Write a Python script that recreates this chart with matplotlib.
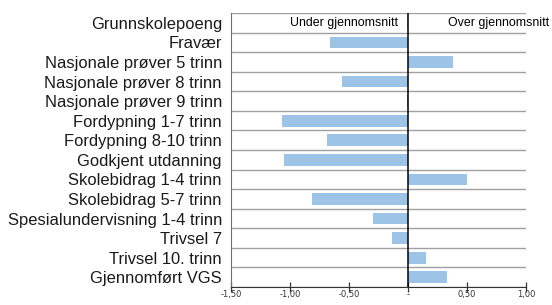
import numpy as np
import matplotlib.pyplot as plt
from matplotlib.ticker import FixedLocator, NullFormatter

plt.rcParams['font.family'] = ['Liberation Sans', 'DejaVu Sans']

categories = ['Grunnskolepoeng', 'Fravær', 'Nasjonale prøver 5 trinn',
              'Nasjonale prøver 8 trinn', 'Nasjonale prøver 9 trinn',
              'Fordypning 1-7 trinn', 'Fordypning 8-10 trinn',
              'Godkjent utdanning', 'Skolebidrag 1-4 trinn',
              'Skolebidrag 5-7 trinn', 'Spesialundervisning 1-4 trinn',
              'Trivsel 7', 'Trivsel 10. trinn', 'Gjennomført VGS']
values = [-0.01, -0.66, 0.38, -0.56, -0.01, -1.07, -0.69, -1.05, 0.50,
          -0.81, -0.30, -0.14, 0.15, 0.33]
xticks = [-1.5, -1.0, -0.5, 0.0, 0.5, 1.0]
xticklabels = ['-1,50', '-1,00', '-0,50', '-', '0,50', '1,00']

fig = plt.figure(figsize=(5.52, 3.05), dpi=100)
ax = fig.add_axes([0.4185, 0.059, 0.953 - 0.4185, 0.957 - 0.059])

n = len(categories)
y = np.arange(n)
ax.barh(y, values, height=0.6, color='#9dc3e6', zorder=2)

ax.set_xlim(-1.5, 1.0)
ax.set_ylim(n - 0.5, -0.5)
ax.set_yticks(y)
ax.set_yticklabels(categories, fontsize=11.9, color='#1a1a1a')
ax.tick_params(axis='y', length=0, pad=6.5)

ax.set_xticks(xticks)
ax.set_xticklabels(xticklabels, fontsize=6, family='DejaVu Sans', color='#333333')
ax.tick_params(axis='x', direction='inout', length=7, width=0.9, color='#333333', pad=-1.5)

# lines between rows
ax.yaxis.set_minor_locator(FixedLocator(np.arange(-0.5, n, 1.0)))
ax.yaxis.set_minor_formatter(NullFormatter())
ax.tick_params(axis='y', which='minor', length=0)
ax.grid(axis='y', which='minor', color='#a0a0a0', lw=1.0, zorder=1)

ax.axvline(0, color='black', lw=1.1, zorder=3)

ax.spines['right'].set_visible(False)
ax.spines['top'].set_visible(False)
ax.spines['left'].set_color('#707070')
ax.spines['bottom'].set_color('#333333')

ax.text(-0.085, 0, 'Under gjennomsnitt', ha='right', va='center', fontsize=8.9)
ax.text(0.34, 0, 'Over gjennomsnitt', ha='left', va='center', fontsize=8.9,
        clip_on=False)

fig.savefig('out.png', dpi=100)
